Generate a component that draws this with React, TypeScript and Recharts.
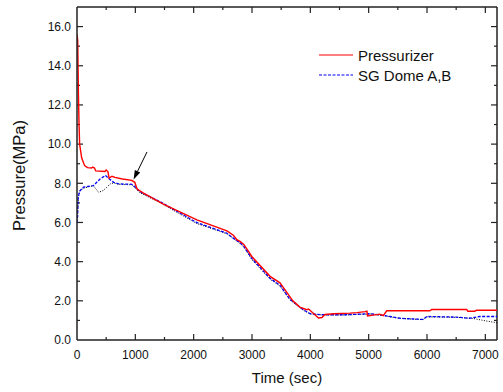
import React from 'react';
import { LineChart, Line, XAxis, YAxis, ReferenceLine, Legend, Label } from 'recharts';

// Pressurizer pressure (MPa) vs time (sec)
const pzrTime = [0, 12, 18, 25, 35, 45, 80, 130, 180, 250, 270, 300, 320, 480, 500, 530, 550, 600, 650, 780, 940, 990, 1030, 1140, 1480, 2055, 2570, 2680, 2740, 2800, 2860, 3000, 3310, 3480, 3600, 3700, 3820, 3940, 3970, 4050, 4140, 4200, 4250, 4400, 4680, 4800, 4940, 4970, 4980, 5190, 5250, 5310, 6050, 6080, 6680, 6700, 6820, 6850, 7200];
const pzrPressure = [15.6, 15.3, 14.0, 12.5, 11.0, 10.0, 9.3, 8.9, 8.8, 8.78, 8.83, 8.78, 8.63, 8.6, 8.68, 8.6, 8.27, 8.36, 8.3, 8.22, 8.15, 8.05, 7.71, 7.5, 6.94, 6.13, 5.57, 5.35, 5.12, 5.02, 4.88, 4.25, 3.25, 2.92, 2.42, 2.0, 1.68, 1.55, 1.58, 1.37, 1.12, 1.15, 1.3, 1.34, 1.37, 1.4, 1.45, 1.47, 1.23, 1.32, 1.24, 1.49, 1.49, 1.56, 1.56, 1.47, 1.47, 1.52, 1.52];

// SG Dome A (blue dashed)
const sgATime = [0, 10, 20, 45, 110, 280, 400, 490, 540, 630, 710, 940, 1000, 1080, 1430, 2050, 2570, 2680, 2800, 2860, 3000, 3310, 3480, 3650, 3880, 4000, 4200, 4600, 5020, 5250, 5370, 5540, 5930, 6000, 6500, 6730, 6900, 7200];
const sgAPressure = [6.0, 6.3, 7.3, 7.6, 7.8, 7.88, 8.23, 8.4, 8.25, 8.05, 7.97, 7.95, 7.8, 7.57, 7.05, 6.0, 5.45, 5.2, 4.95, 4.78, 4.15, 3.15, 2.8, 2.08, 1.54, 1.34, 1.29, 1.29, 1.34, 1.26, 1.2, 1.11, 1.05, 1.2, 1.17, 1.11, 1.2, 1.2];

// SG Dome B (black dotted)
const sgBTime = [0, 10, 25, 50, 110, 280, 370, 450, 570, 630, 710, 940, 1000, 1080, 1430, 2050, 2570, 2680, 2800, 2860, 3000, 3310, 3480, 3650, 3880, 4000, 4200, 4600, 5020, 5250, 5370, 5540, 5930, 6000, 6500, 6790, 7000, 7200];
const sgBPressure = [6.2, 6.5, 7.3, 7.6, 7.75, 7.88, 7.54, 7.63, 7.97, 8.02, 7.95, 7.92, 7.75, 7.52, 7.0, 5.95, 5.42, 5.18, 4.92, 4.75, 4.1, 3.1, 2.75, 2.05, 1.52, 1.33, 1.28, 1.28, 1.33, 1.25, 1.18, 1.1, 1.04, 1.18, 1.16, 1.1, 0.98, 0.88];

const xDomain = [0, 7200];
const yDomain = [0, 17];
const xMajorTicks = [0, 1000, 2000, 3000, 4000, 5000, 6000, 7000];
const xMinorTicks = [500, 1500, 2500, 3500, 4500, 5500, 6500];
const yMajorTicks = [0, 2, 4, 6, 8, 10, 12, 14, 16];
const yMinorTicks = [1, 3, 5, 7, 9, 11, 13, 15];
const legendOrder = ['Pressurizer', 'SG Dome A,B'];

const arrowTail = { t: 1200, p: 9.6 };
const arrowTip = { t: 970, p: 8.2 };

const pzrData = pzrTime.map((t, i) => ({ t, p: pzrPressure[i] }));
const sgAData = sgATime.map((t, i) => ({ t, p: sgAPressure[i] }));
const sgBData = sgBTime.map((t, i) => ({ t, p: sgBPressure[i] }));

const FONT = '"Liberation Sans", Arial, sans-serif';
const AX = '#222';
const tickStyle = { fontSize: 12, fill: '#111', fontFamily: FONT };

const ArrowShape = (props: any) => {
  const { x1, y1, x2, y2 } = props;
  const dx = x2 - x1;
  const dy = y2 - y1;
  const len = Math.sqrt(dx * dx + dy * dy) || 1;
  const ux = dx / len;
  const uy = dy / len;
  const hl = 9;
  const hw = 3;
  const bx = x2 - ux * hl;
  const by = y2 - uy * hl;
  const pts = `${x2},${y2} ${bx - uy * hw},${by + ux * hw} ${bx + uy * hw},${by - ux * hw}`;
  return (
    <g>
      <line x1={x1} y1={y1} x2={bx} y2={by} stroke="#000" strokeWidth={1} />
      <polygon points={pts} fill="#000" />
    </g>
  );
};

// inward tick marks at both ends of a full-height / full-width reference line
const makeTickShape = (len: number, vertical: boolean) => (props: any) => {
  const { x1, y1, x2, y2 } = props;
  if (vertical) {
    const top = Math.min(y1, y2);
    const bot = Math.max(y1, y2);
    return (
      <g>
        <line x1={x1} y1={bot} x2={x1} y2={bot - len} stroke={AX} strokeWidth={1.2} />
        <line x1={x1} y1={top} x2={x1} y2={top + len} stroke={AX} strokeWidth={1.2} />
      </g>
    );
  }
  const l = Math.min(x1, x2);
  const r = Math.max(x1, x2);
  return (
    <g>
      <line x1={l} y1={y1} x2={l + len} y2={y1} stroke={AX} strokeWidth={1.2} />
      <line x1={r} y1={y1} x2={r - len} y2={y1} stroke={AX} strokeWidth={1.2} />
    </g>
  );
};
const xMajorShape = makeTickShape(6, true);
const xMinorShape = makeTickShape(3, true);
const yMajorShape = makeTickShape(6, false);
const yMinorShape = makeTickShape(3, false);

const renderLegend = (props: any) => {
  const items = (props.payload || []).filter((e: any) => legendOrder.includes(e.value));
  items.sort((a: any, b: any) => legendOrder.indexOf(a.value) - legendOrder.indexOf(b.value));
  return (
    <div style={{ fontFamily: FONT, fontSize: 15, color: '#111' }}>
      {items.map((e: any, i: number) => (
        <div key={i} style={{ display: 'flex', alignItems: 'center', height: 20, whiteSpace: 'nowrap' }}>
          <svg width={34} height={4} style={{ display: 'block' }}>
            <line x1={0} y1={2} x2={34} y2={2} stroke={e.color} strokeWidth={1.2} strokeDasharray={e.payload?.strokeDasharray} />
          </svg>
          <span style={{ marginLeft: 5 }}>{e.value}</span>
        </div>
      ))}
    </div>
  );
};

const al = { stroke: AX, strokeWidth: 1.5 };

export default function App() {
  return (
    <div style={{ position: 'absolute', left: 0, top: 0 }}>
      <LineChart width={503} height={392} margin={{ top: 7, right: 6, bottom: 0, left: 0 }}>
        <XAxis dataKey="t" type="number" domain={xDomain} ticks={xMajorTicks} interval={0} height={52} tick={tickStyle} tickLine={false} tickSize={0} tickMargin={10} axisLine={al} allowDataOverflow>
          <Label
            content={(p: any) => {
              const vb = p.viewBox || {};
              return (
                <text x={vb.x + vb.width / 2} y={vb.y + 43} textAnchor="middle" fontSize={15} fontFamily={FONT} fill="#111">
                  Time (sec)
                </text>
              );
            }}
          />
        </XAxis>
        <YAxis type="number" domain={yDomain} ticks={yMajorTicks} interval={0} width={77} tick={tickStyle} tickFormatter={(v: number) => v.toFixed(1)} tickLine={false} tickSize={0} tickMargin={6} axisLine={al} allowDataOverflow>
          <Label
            content={(p: any) => {
              const vb = p.viewBox || {};
              const cx = vb.x + 25;
              const cy = vb.y + vb.height / 2 + 2;
              return (
                <text x={cx} y={cy} transform={`rotate(-90, ${cx}, ${cy})`} textAnchor="middle" fontSize={16.5} fontFamily={FONT} fill="#111">
                  Pressure(MPa)
                </text>
              );
            }}
          />
        </YAxis>

        {/* frame: top and right edges */}
        <ReferenceLine y={yDomain[1]} stroke={AX} strokeWidth={1.5} ifOverflow="visible" />
        <ReferenceLine x={xDomain[1]} stroke={AX} strokeWidth={1.5} ifOverflow="visible" />

        {/* inward tick marks on all four sides */}
        {xMajorTicks.filter((v) => v > xDomain[0]).map((v) => (
          <ReferenceLine key={`xM${v}`} x={v} shape={xMajorShape} ifOverflow="visible" />
        ))}
        {xMinorTicks.map((v) => (
          <ReferenceLine key={`xm${v}`} x={v} shape={xMinorShape} ifOverflow="visible" />
        ))}
        {yMajorTicks.filter((v) => v > yDomain[0]).map((v) => (
          <ReferenceLine key={`yM${v}`} y={v} shape={yMajorShape} ifOverflow="visible" />
        ))}
        {yMinorTicks.map((v) => (
          <ReferenceLine key={`ym${v}`} y={v} shape={yMinorShape} ifOverflow="visible" />
        ))}

        <Line data={sgBData} dataKey="p" name="SG Dome B" type="linear" stroke="#000" strokeWidth={1} strokeDasharray="1 1.5" dot={false} legendType="none" isAnimationActive={false} />
        <Line data={sgAData} dataKey="p" name="SG Dome A,B" type="linear" stroke="#0000ff" strokeWidth={1.3} strokeDasharray="3 1.5" dot={false} isAnimationActive={false} />
        <Line data={pzrData} dataKey="p" name="Pressurizer" type="linear" stroke="#ff0000" strokeWidth={1.4} dot={false} isAnimationActive={false} />

        <ReferenceLine segment={[{ x: arrowTail.t, y: arrowTail.p }, { x: arrowTip.t, y: arrowTip.p }]} ifOverflow="visible" shape={ArrowShape} />

        <Legend content={renderLegend} layout="horizontal" verticalAlign="middle" align="center" wrapperStyle={{ left: 319, top: 45, width: 'auto' }} />
      </LineChart>
    </div>
  );
}
